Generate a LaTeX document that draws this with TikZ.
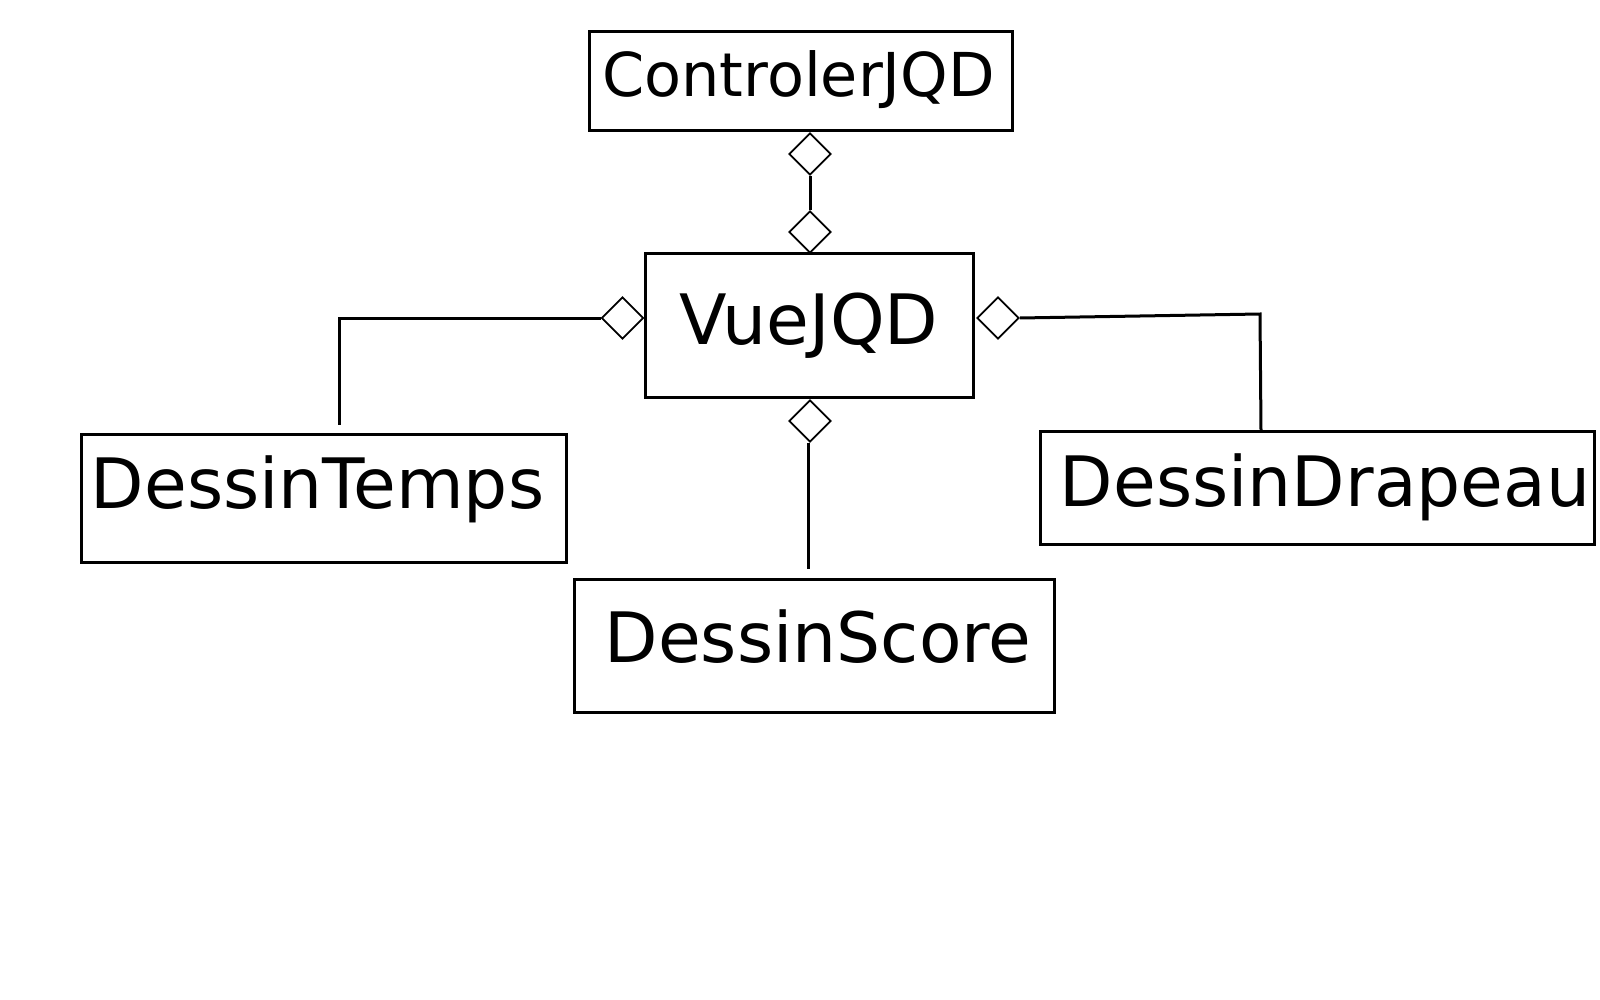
\documentclass[tikz,border=0pt]{standalone}
\usepackage{fontspec}
\setmainfont{DejaVu Sans}
\usetikzlibrary{shapes.geometric}
\begin{document}
\begin{tikzpicture}[x=1pt,y=-1pt,
  cls/.style={draw, line width=3pt, rectangle, inner sep=0pt,
    text height=52pt, text depth=17.5pt, font=\fontsize{69.5}{80}\selectfont},
  agg/.style={draw, line width=1.8pt, shape=diamond, aspect=1, fill=white,
    minimum width=42pt, minimum height=42pt, inner sep=0pt},
  conn/.style={line width=3pt}]
\useasboundingbox (0,0) rectangle (1600,1000);
\fill[white] (0,0) rectangle (1600,1000);

% classes
\node[cls, font=\fontsize{60.5}{70}\selectfont, text height=45pt, text depth=15pt,
      minimum width=423pt, minimum height=99pt] (ctl) at (800.5,81.5) {ControlerJQD\kern4pt};
\node[cls, minimum width=328pt, minimum height=143pt, text height=54pt, text depth=15.5pt] (vue) at (809,325.5) {VueJQD};
\node[cls, minimum width=485pt, minimum height=128pt, text height=45pt, text depth=25pt] (temps) at (323.5,498) {DessinTemps\kern12pt};
\node[cls, minimum width=554pt, minimum height=113pt, text height=55pt, text depth=16.5pt] (drap) at (1317,487.5) {\kern16pt DessinDrapeau};
\node[cls, minimum width=480pt, minimum height=133pt] (score) at (814,645.5) {\kern8pt DessinScore};

% aggregation diamonds
\node[agg] (d1) at (810,154) {};
\node[agg] (d2) at (810,232) {};
\node[agg] (d3) at (622.5,318) {};
\node[agg] (d4) at (998,318) {};
\node[agg] (d5) at (810,421) {};

% connector ends
\coordinate (tl) at (339,425);
\coordinate (rc) at (1260,314);
\coordinate (rb) at (1261,431);
\coordinate (sb) at (808,569);

% connectors
\draw[conn] (d1.south) -- (d2.north);
\draw[conn] (d3.west) -| (tl);
\draw[conn] (d4.east) -- (rc) -- (rb);
\draw[conn] (d5.south -| sb) -- (sb);
\end{tikzpicture}
\end{document}
